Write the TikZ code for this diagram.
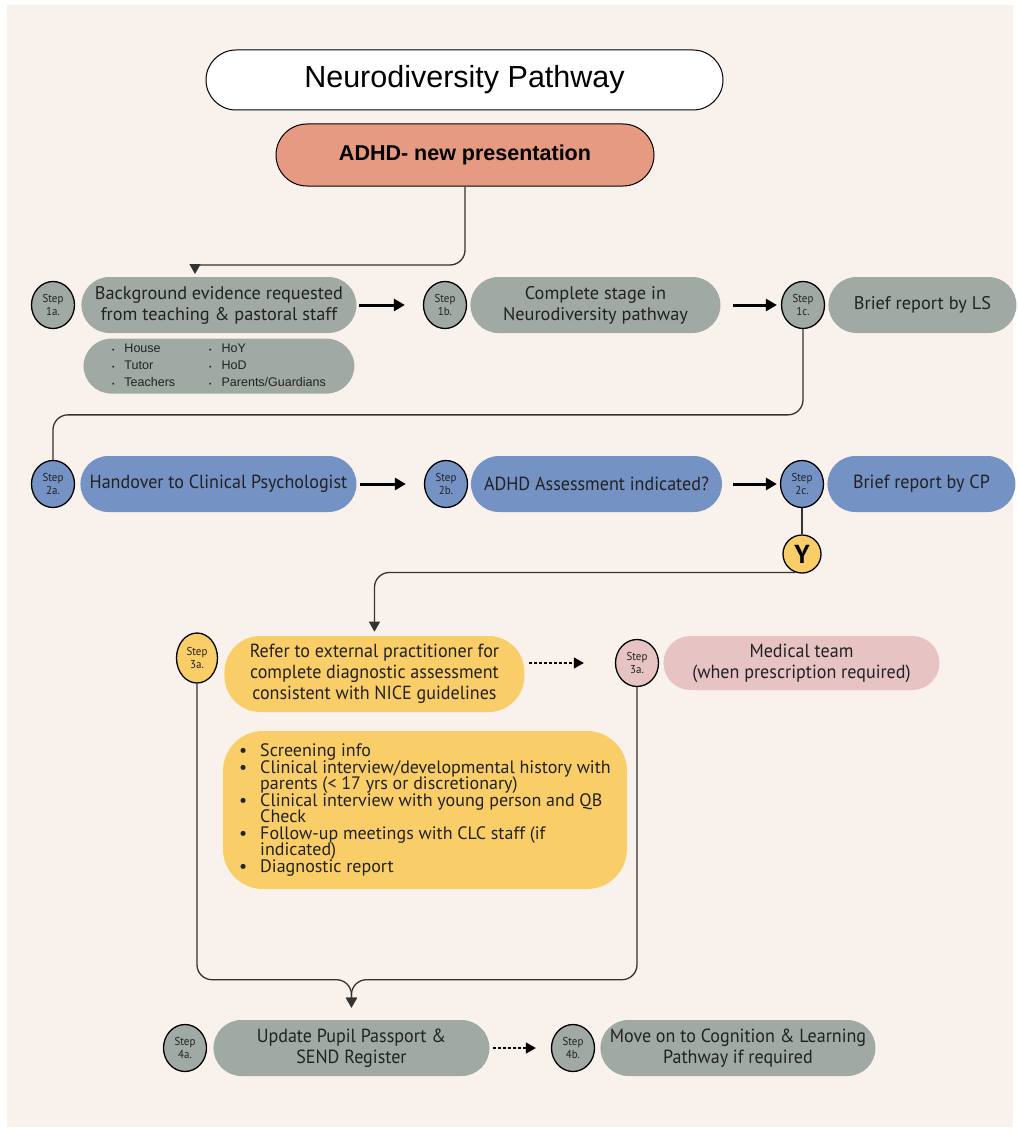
\documentclass[tikz,border=0pt]{standalone}
\usepackage{fontspec}
\setmainfont{PT Sans}
\newfontfamily\arialfont{Liberation Sans}
\newfontfamily\narrowfont[FakeStretch=0.95]{PT Sans}
\usepackage{tikz}
\usetikzlibrary{arrows.meta,positioning,shapes.geometric}

\definecolor{pagebg}{HTML}{F9F1EC}
\definecolor{greyfill}{HTML}{A0A9A4}
\definecolor{bluefill}{HTML}{7592C5}
\definecolor{yellowfill}{HTML}{F9CE68}
\definecolor{pinkfill}{HTML}{E8C3C4}
\definecolor{salmonfill}{HTML}{E59A81}
\definecolor{inktext}{HTML}{222222}
\definecolor{linkgrey}{HTML}{333333}

\newcommand{\blt}{\makebox[21pt][l]{\textbullet}}
\newcommand{\nobl}{\hspace*{21pt}}

\begin{document}
\begin{tikzpicture}[x=1pt,y=-1pt,>={Triangle[length=10pt,width=11pt]},
 node distance=6pt,semithick]
 \tikzstyle{pill}=[rectangle,rounded corners=28pt,minimum height=56pt,
   align=center,text=inktext,inner sep=2pt]
 \tikzstyle{greybox}=[pill,fill=greyfill,font=\fontsize{18.3}{21}\selectfont]
 \tikzstyle{bluebox}=[pill,fill=bluefill,font=\narrowfont\fontsize{19}{21}\selectfont]
 \tikzstyle{yellowbox}=[pill,fill=yellowfill,font=\narrowfont\fontsize{19}{21}\selectfont]
 \tikzstyle{pinkbox}=[pill,fill=pinkfill,rounded corners=27pt,minimum height=54pt,
   font=\narrowfont\fontsize{19}{21}\selectfont]
 \tikzstyle{stepnode}=[ellipse,draw=black,line width=1.3pt,minimum width=43pt,
   minimum height=47pt,inner sep=0pt,align=center,text=inktext,
   font=\narrowfont\fontsize{11.5}{13}\selectfont]
 \tikzstyle{fatarrow}=[->,line width=3pt,>={Triangle[length=11pt,width=12pt]}]
 \tikzstyle{dotarrow}=[->,line width=1.3pt,dash pattern=on 3pt off 2pt]
 \tikzstyle{link}=[draw=linkgrey,line width=1.3pt,rounded corners=15pt]

 \useasboundingbox (0,0) rectangle (1017,1129);
 \fill[pagebg] (7,5) rectangle (1013,1127);

 % heading
 \node[pill,fill=white,draw=black,line width=1pt,rounded corners=30pt,
   minimum width=517pt,minimum height=60pt,font=\arialfont\fontsize{30.5}{36}\selectfont,
   text=black] (title) at (464.5,80) {Neurodiversity Pathway};
 \node[pill,fill=salmonfill,draw=black,line width=1pt,rounded corners=31pt,
   minimum width=378pt,minimum height=62pt,
   font=\arialfont\bfseries\fontsize{21.5}{26}\selectfont,text=black]
   (adhd) at (465,155) {ADHD- new presentation};

 % stage 1
 \node[stepnode,fill=greyfill] (s1a) at (53,305) {Step\\1a.};
 \node[greybox,minimum width=275pt] (b1a) [right=6pt of s1a]
   {Background evidence requested\\from teaching \& pastoral staff};
 \node[pill,fill=greyfill,minimum width=271pt,minimum height=55pt,
   font=\arialfont\fontsize{12.5}{17}\selectfont] (who1a) [below=5pt of b1a]
   {\begin{tabular}{@{}l@{\hspace{10pt}}l@{\hspace{34pt}}l@{\hspace{10pt}}l@{}}
    {\fontsize{7}{7}\selectfont\textbullet} & House & {\fontsize{7}{7}\selectfont\textbullet} & HoY\\
    {\fontsize{7}{7}\selectfont\textbullet} & Tutor & {\fontsize{7}{7}\selectfont\textbullet} & HoD\\
    {\fontsize{7}{7}\selectfont\textbullet} & Teachers & {\fontsize{7}{7}\selectfont\textbullet} & Parents/Guardians
    \end{tabular}};
 \node[stepnode,fill=greyfill] (s1b) at (445,305) {Step\\1b.};
 \node[greybox,minimum width=250pt] (b1b) [right=3pt of s1b]
   {Complete stage in\\Neurodiversity pathway};
 \node[stepnode,fill=greyfill] (s1c) at (803,305) {Step\\1c.};
 \node[greybox,minimum width=188pt] (b1c) [right=3pt of s1c] {Brief report by LS};

 % stage 2
 \node[stepnode,fill=bluefill] (s2a) at (53,484) {Step\\2a.};
 \node[bluebox,minimum width=276pt] (b2a) [right=5pt of s2a]
   {Handover to Clinical Psychologist};
 \node[stepnode,fill=bluefill] (s2b) at (446,484) {Step\\2b.};
 \node[bluebox,minimum width=251pt] (b2b) [right=2.5pt of s2b]
   {ADHD Assessment indicated?};
 \node[stepnode,fill=bluefill] (s2c) at (802,484) {Step\\2c.};
 \node[bluebox,minimum width=188pt] (b2c) [right=3pt of s2c] {Brief report by CP};
 \node[circle,draw=black,line width=1.3pt,fill=yellowfill,minimum size=38pt,
   inner sep=0pt,font=\bfseries\fontsize{26}{30}\selectfont,text=black]
   (yes) at (802,554) {Y};

 % stage 3
 \node[stepnode,fill=yellowfill,minimum width=41pt,minimum height=50pt]
   (s3a) at (197,658) {Step\\3a.};
 \node[yellowbox,minimum width=300pt,minimum height=76pt,rounded corners=36pt]
   (b3a) [right=6pt of s3a,yshift=-16pt]
   {Refer to external practitioner for\\complete diagnostic assessment\\
    consistent with NICE guidelines};
 \node[stepnode,fill=pinkfill] (s3b) at (637,663) {Step\\3a.};
 \node[pinkbox,minimum width=276pt] (med) [right=4pt of s3b]
   {Medical team\\(when prescription required)};
 \node[yellowbox,minimum width=404pt,minimum height=158pt,rounded corners=40pt,
   align=left,font=\fontsize{18}{17.1}\selectfont]
   (list3) at (425,810)
   {\blt Screening info\\[-0.6pt]
    \blt Clinical interview/developmental history with\\[-0.6pt]
    \nobl parents (< 17 yrs or discretionary)\\[-0.6pt]
    \blt Clinical interview with young person and QB\\[-0.6pt]
    \nobl Check\\[-0.6pt]
    \blt Follow-up meetings with CLC staff (if\\[-0.6pt]
    \nobl indicated)\\[-0.6pt]
    \blt Diagnostic report};

 % stage 4
 \node[stepnode,fill=greyfill] (s4a) at (185,1048) {Step\\4a.};
 \node[greybox,minimum width=276pt,font=\narrowfont\fontsize{19}{21}\selectfont]
   (b4a) [right=6pt of s4a] {Update Pupil Passport \&\\SEND Register};
 \node[stepnode,fill=greyfill] (s4b) at (573,1048) {Step\\4b.};
 \node[greybox,minimum width=275pt,font=\narrowfont\fontsize{19}{21}\selectfont]
   (b4b) [right=5pt of s4b] {Move on to Cognition \& Learning\\Pathway if required};

 % connectors
 \coordinate (c1) at (195,265);
 \draw[link] (adhd.south) |- (c1);
 \draw[link,->] (c1) -- ++(0,9);
 \path (b1a) edge[fatarrow,shorten <=2pt,shorten >=18pt] (s1b)
       (b1b) edge[fatarrow,shorten <=12pt,shorten >=4pt] (s1c);
 \draw[link] (s1c.south) |- ([yshift=45pt]s2a.north) -- (s2a.north);
 \path (b2a) edge[fatarrow,shorten <=3pt,shorten >=18pt] (s2b)
       (b2b) edge[fatarrow,shorten <=11pt,shorten >=3pt] (s2c);
 \draw[link] (s2c.south) -- (yes.north);
 \draw[link,->,shorten >=4pt] (yes.250) -| (b3a.north);
 \path (b3a.east |- s3b) edge[dotarrow,shorten <=4pt,shorten >=31pt] (s3b);
 \draw[link,->,shorten >=12pt] (s3a.south) |- ([yshift=40pt]b4a.north) -- (b4a.north);
 \draw[link,->,shorten >=12pt] (s3b.south) |- ([yshift=40pt]b4a.north) -- (b4a.north);
 \path (b4a) edge[dotarrow,shorten <=3pt,shorten >=15pt] (s4b);
\end{tikzpicture}
\end{document}
